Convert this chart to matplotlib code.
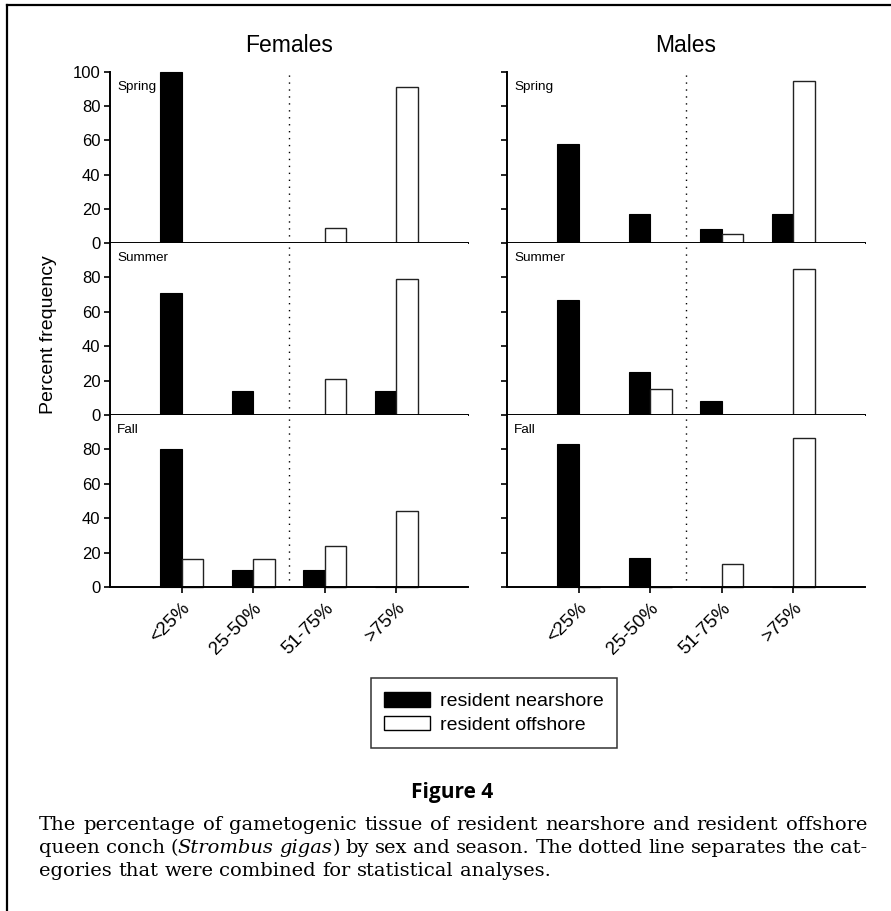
import matplotlib
matplotlib.use('Agg')
import matplotlib.pyplot as plt
from matplotlib.patches import Patch
from matplotlib.lines import Line2D
import numpy as np

plt.rcParams['font.family'] = 'Liberation Sans'

categories = ['<25%', '25-50%', '51-75%', '>75%']
seasons = ['Spring', 'Summer', 'Fall']
sexes = ['Females', 'Males']

# rows = seasons, columns = categories
female_nearshore = [[100, 0, 0, 0], [71, 14, 0, 14], [80, 10, 10, 0]]
female_offshore = [[0, 0, 9, 91], [0, 0, 21, 79], [16, 16, 24, 44]]
male_nearshore = [[58, 17, 8, 17], [67, 25, 8, 0], [83, 17, 0, 0]]
male_offshore = [[0, 0, 5, 95], [0, 15, 0, 85], [0, 0, 13.3, 86.7]]

legend_labels = ['resident nearshore', 'resident offshore']
fig_label = 'Figure 4'
caption_lines = [
    "The percentage of gametogenic tissue of resident nearshore and resident offshore",
    "queen conch (|Strombus| |gigas|) by sex and season. The dotted line separates the cat-",
    "egories that were combined for statistical analyses.",
]

W, H = 891, 911
fig = plt.figure(figsize=(W / 100, H / 100), dpi=100)


def fx(px):
    return px / W


def fy(py):
    return 1 - py / H


row_edges = [72, 243, 415, 587]
col_left = [110, 507]
col_width = 358
x = np.arange(1, len(categories) + 1)
bw = 0.3

data = [(female_nearshore, female_offshore), (male_nearshore, male_offshore)]
for c, (near, off) in enumerate(data):
    for r, season in enumerate(seasons):
        top, bot = row_edges[r], row_edges[r + 1]
        ax = fig.add_axes([fx(col_left[c]), fy(bot), col_width / W, (bot - top) / H])
        ax.bar(x - bw / 2, near[r], bw, color='black', edgecolor='black', lw=0.8, clip_on=False)
        ax.bar(x + bw / 2, off[r], bw, facecolor='white', edgecolor='#222222', lw=1.0, clip_on=False)
        ax.axvline(2.5, color='black', lw=1.0, linestyle=(0, (1, 4)))
        ax.set_xlim(0, 5)
        ax.set_ylim(0, 100)
        for s in ['top', 'right']:
            ax.spines[s].set_visible(False)
        for s in ['left', 'bottom']:
            ax.spines[s].set_linewidth(1.4)
        if r == 0:
            ax.set_yticks([0, 20, 40, 60, 80, 100])
        else:
            ax.set_yticks([0, 20, 40, 60, 80])
        ax.tick_params(axis='y', direction='out', length=4, width=1.2, labelsize=12, pad=3,
                       labelleft=(c == 0))
        if r == 2:
            ax.set_xticks(x)
            ax.set_xticklabels(categories, rotation=45, ha='right', va='top',
                               rotation_mode='anchor', fontsize=13.5)
            ax.tick_params(axis='x', direction='out', length=4, width=1.2, pad=5)
        else:
            ax.set_xticks([])
        ax.text(0.02, 1 - 9 / (bot - top), season, transform=ax.transAxes,
                va='top', ha='left', fontsize=9.7)

    fig.text(fx(col_left[c] + col_width / 2), fy(52), sexes[c], ha='center',
             va='baseline', fontsize=16.5)

fig.text(fx(49), fy(335), 'Percent frequency', rotation=90, ha='center',
         va='center', fontsize=14)

handles = [Patch(facecolor='black', edgecolor='black'),
           Patch(facecolor='white', edgecolor='black', lw=1.0)]
leg = fig.legend(handles, legend_labels, loc='center', bbox_to_anchor=(fx(494), fy(713)),
                 fontsize=14, frameon=True, fancybox=False, edgecolor='black',
                 handlelength=2.37, handleheight=0.77, handletextpad=0.5,
                 borderpad=0.7, labelspacing=0.3)
leg.get_frame().set_linewidth(1.1)

fig.text(fx(452), fy(798), fig_label, family='Open Sans', fontweight='bold',
         fontsize=15, ha='center', va='baseline')

# caption, justified like the printed page
cap_font = dict(family='DejaVu Serif', fontsize=14.0)
renderer = fig.canvas.get_renderer()


def text_width(s, style):
    if not s:
        return 0.0
    t = fig.text(0, 0, s, style=style, **cap_font)
    w = t.get_window_extent(renderer).width
    t.remove()
    return w


space_w = text_width('a a', 'normal') - 2 * text_width('a', 'normal')
x_left, x_right = 39, 867
baselines = [830, 853, 876]
for i, line in enumerate(caption_lines):
    words = []
    for word in line.split(' '):
        pieces = word.split('|')
        words.append([(p, 'italic' if k % 2 else 'normal') for k, p in enumerate(pieces)])
    widths = [sum(text_width(p, st) for p, st in w) for w in words]
    if i < len(caption_lines) - 1:
        gap = max((x_right - x_left - sum(widths)) / (len(words) - 1), 0.6 * space_w)
    else:
        gap = space_w
    xp = x_left
    for w, wd in zip(words, widths):
        xx = xp
        for p, st in w:
            if p:
                fig.text(fx(xx), fy(baselines[i]), p, style=st, va='baseline', ha='left', **cap_font)
            xx += text_width(p, st)
        xp += wd + gap

# page frame: top and left rules
fig.add_artist(Line2D([fx(7), 1], [fy(5), fy(5)], transform=fig.transFigure, color='black', lw=1.6))
fig.add_artist(Line2D([fx(7), fx(7)], [fy(5), 0], transform=fig.transFigure, color='black', lw=1.6))

fig.savefig('out.png', dpi=100)
